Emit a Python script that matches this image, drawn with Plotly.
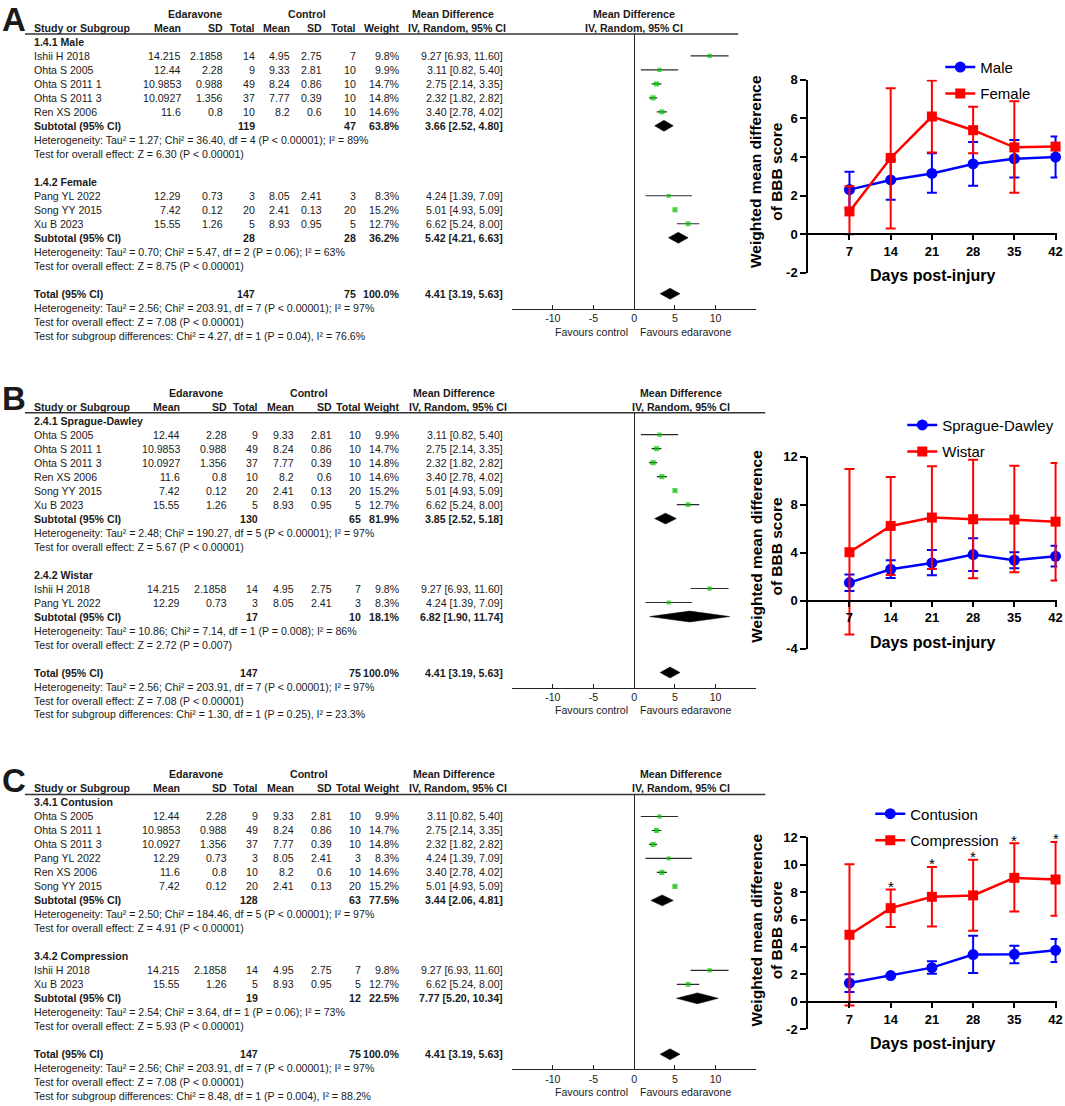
import plotly.graph_objects as go

W, H = 1065, 1106
# measured mapping between page pixels and the photographed picture
SX, SY, OY = 0.995, 0.987, 6.1

# ----------------------------- DATA -----------------------------
study_names = ["Ishii H 2018", "Ohta S 2005", "Ohta S 2011 1", "Ohta S 2011 3",
               "Ren XS 2006", "Pang YL 2022", "Song YY 2015", "Xu B 2023"]
e_mean = [14.215, 12.44, 10.9853, 10.0927, 11.6, 12.29, 7.42, 15.55]
e_sd = [2.1858, 2.28, 0.988, 1.356, 0.8, 0.73, 0.12, 1.26]
e_n = [14, 9, 49, 37, 10, 3, 20, 5]
c_mean = [4.95, 9.33, 8.24, 7.77, 8.2, 8.05, 2.41, 8.93]
c_sd = [2.75, 2.81, 0.86, 0.39, 0.6, 2.41, 0.13, 0.95]
c_n = [7, 10, 10, 10, 10, 3, 20, 5]
weight = [9.8, 9.9, 14.7, 14.8, 14.6, 8.3, 15.2, 12.7]
md = [9.27, 3.11, 2.75, 2.32, 3.40, 4.24, 5.01, 6.62]
ci_lo = [6.93, 0.82, 2.14, 1.82, 2.78, 1.39, 4.93, 5.24]
ci_hi = [11.60, 5.40, 3.35, 2.82, 4.02, 7.09, 5.09, 8.00]

total_row = [147, 75, 100.0, 4.41, 3.19, 5.63]
total_het = "Heterogeneity: Tau² = 2.56; Chi² = 203.91, df = 7 (P &lt; 0.00001); I² = 97%"
total_test = "Test for overall effect: Z = 7.08 (P &lt; 0.00001)"

A1_title = "1.4.1 Male"
A1_studies = ["Ishii H 2018", "Ohta S 2005", "Ohta S 2011 1", "Ohta S 2011 3", "Ren XS 2006"]
A1_sub = [119, 47, 63.8, 3.66, 2.52, 4.80]
A1_het = "Heterogeneity: Tau² = 1.27; Chi² = 36.40, df = 4 (P &lt; 0.00001); I² = 89%"
A1_test = "Test for overall effect: Z = 6.30 (P &lt; 0.00001)"
A2_title = "1.4.2 Female"
A2_studies = ["Pang YL 2022", "Song YY 2015", "Xu B 2023"]
A2_sub = [28, 28, 36.2, 5.42, 4.21, 6.63]
A2_het = "Heterogeneity: Tau² = 0.70; Chi² = 5.47, df = 2 (P = 0.06); I² = 63%"
A2_test = "Test for overall effect: Z = 8.75 (P &lt; 0.00001)"
A_subgroup = "Test for subgroup differences: Chi² = 4.27, df = 1 (P = 0.04), I² = 76.6%"

B1_title = "2.4.1 Sprague-Dawley"
B1_studies = ["Ohta S 2005", "Ohta S 2011 1", "Ohta S 2011 3", "Ren XS 2006", "Song YY 2015", "Xu B 2023"]
B1_sub = [130, 65, 81.9, 3.85, 2.52, 5.18]
B1_het = "Heterogeneity: Tau² = 2.48; Chi² = 190.27, df = 5 (P &lt; 0.00001); I² = 97%"
B1_test = "Test for overall effect: Z = 5.67 (P &lt; 0.00001)"
B2_title = "2.4.2 Wistar"
B2_studies = ["Ishii H 2018", "Pang YL 2022"]
B2_sub = [17, 10, 18.1, 6.82, 1.90, 11.74]
B2_het = "Heterogeneity: Tau² = 10.86; Chi² = 7.14, df = 1 (P = 0.008); I² = 86%"
B2_test = "Test for overall effect: Z = 2.72 (P = 0.007)"
B_subgroup = "Test for subgroup differences: Chi² = 1.30, df = 1 (P = 0.25), I² = 23.3%"

C1_title = "3.4.1 Contusion"
C1_studies = ["Ohta S 2005", "Ohta S 2011 1", "Ohta S 2011 3", "Pang YL 2022", "Ren XS 2006", "Song YY 2015"]
C1_sub = [128, 63, 77.5, 3.44, 2.06, 4.81]
C1_het = "Heterogeneity: Tau² = 2.50; Chi² = 184.46, df = 5 (P &lt; 0.00001); I² = 97%"
C1_test = "Test for overall effect: Z = 4.91 (P &lt; 0.00001)"
C2_title = "3.4.2 Compression"
C2_studies = ["Ishii H 2018", "Xu B 2023"]
C2_sub = [19, 12, 22.5, 7.77, 5.20, 10.34]
C2_het = "Heterogeneity: Tau² = 2.54; Chi² = 3.64, df = 1 (P = 0.06); I² = 73%"
C2_test = "Test for overall effect: Z = 5.93 (P &lt; 0.00001)"
C_subgroup = "Test for subgroup differences: Chi² = 8.48, df = 1 (P = 0.004), I² = 88.2%"

forest_ticks = [-10, -5, 0, 5, 10]

days = [7, 14, 21, 28, 35, 42]
male_mean = [2.31, 2.81, 3.15, 3.64, 3.91, 4.00]
male_lo = [1.35, 1.78, 2.15, 2.51, 2.94, 2.94]
male_hi = [3.24, 3.86, 4.19, 4.78, 4.88, 5.06]
female_mean = [1.18, 3.95, 6.10, 5.39, 4.50, 4.54]
female_lo = [0.0, 0.29, 4.24, 4.19, 2.15, 4.54]
female_hi = [2.49, 7.57, 7.97, 6.60, 6.89, 4.54]

sd_mean = [1.50, 2.61, 3.14, 3.83, 3.36, 3.69]
sd_lo = [0.80, 1.89, 2.11, 2.47, 2.69, 2.83]
sd_hi = [2.17, 3.36, 4.22, 5.19, 4.03, 4.58]
wi_mean = [4.03, 6.22, 6.92, 6.78, 6.75, 6.58]
wi_lo = [-2.83, 2.14, 2.64, 1.86, 2.36, 1.67]
wi_hi = [10.97, 10.30, 11.19, 11.75, 11.25, 11.47]

co_mean = [1.38, 1.92, 2.50, 3.45, 3.47, 3.76]
co_lo = [0.73, 1.92, 2.06, 2.11, 2.82, 2.91]
co_hi = [2.01, 1.92, 2.96, 4.83, 4.10, 4.59]
cp_mean = [4.90, 6.84, 7.67, 7.77, 9.05, 8.93]
cp_lo = [-0.27, 5.46, 5.51, 5.19, 6.60, 6.29]
cp_hi = [10.05, 8.20, 9.85, 10.37, 11.58, 11.67]
cp_sig = ["", "*", "*", "*", "*", "*"]

A_yticks = [-2, 0, 2, 4, 6, 8]
B_yticks = [-4, 0, 4, 8, 12]
C_yticks = [-2, 0, 2, 4, 6, 8, 10, 12]

# ----------------------------- STYLE -----------------------------
TFONT = "Arial, Liberation Sans, sans-serif"
TSIZE = 10.6
TCOL = "#1a1a1a"
GREEN = "#00c400"
BLUE = "#0000ff"
RED = "#ff0000"
ROW = 14.0

fig = go.Figure()
annotations = []
shapes = []


def fx(x):
    return (x / SX) / W


def fy(y):
    return 1 - ((y - OY) / SY) / H


def add_text(x, y, s, anchor="left", bold=False, size=TSIZE, family=TFONT, color=TCOL):
    if bold:
        s = "<b>" + s + "</b>"
    annotations.append(dict(xref="paper", yref="paper", x=fx(x), y=fy(y), text=s,
                            showarrow=False, xanchor=anchor, yanchor="middle",
                            borderpad=0, font=dict(family=family, size=size, color=color)))


def fmt_ci(m, lo, hi):
    return f"{m:.2f} [{lo:.2f}, {hi:.2f}]"


colsA = dict(name=33, em=182, esd=224, en=256, cm=291, csd=323, cn=357, w=401, ci=504,
             edar=195, ctrl=307, mdc=453, ivc=457, fc=634, line_end=738)
colsBC = dict(name=33, em=181, esd=228, en=259, cm=295, csd=333, cn=362, w=401, ci=504,
              edar=196, ctrl=309, mdc=454, ivc=458, fc=681, line_end=765)


def build_forest(idx, label, r0, cols, groups, subgroup_text):
    c = cols
    add_text(1, r0 - 22, label, bold=True, size=33)
    hy1, hy2 = r0 - 28, r0 - 14
    add_text(c["edar"], hy1, "Edaravone", "center", True)
    add_text(c["ctrl"], hy1, "Control", "center", True)
    add_text(c["mdc"], hy1, "Mean Difference", "center", True)
    add_text(c["fc"], hy1, "Mean Difference", "center", True)
    add_text(c["name"], hy2, "Study or Subgroup", "left", True)
    for key, s in [("em", "Mean"), ("esd", "SD"), ("en", "Total"), ("cm", "Mean"),
                   ("csd", "SD"), ("cn", "Total"), ("w", "Weight")]:
        add_text(c[key], hy2, s, "right", True)
    add_text(c["ivc"], hy2, "IV, Random, 95% CI", "center", True)
    add_text(c["fc"], hy2, "IV, Random, 95% CI", "center", True)
    shapes.append(dict(type="line", xref="paper", yref="paper", x0=fx(25), x1=fx(c["line_end"]),
                       y0=fy(r0 - 8), y1=fy(r0 - 8), line=dict(color="#333", width=1.5)))

    sq_x, sq_y, sq_size, e_plus, e_minus = [], [], [], [], []
    diamonds = []
    k = 0

    def ry(kk):
        return r0 + ROW * kk

    for (title, members, sub, het, test) in groups:
        add_text(c["name"], ry(k), title, "left", True)
        k += 1
        for nm in members:
            i = study_names.index(nm)
            y = ry(k)
            add_text(c["name"], y, nm)
            add_text(c["em"], y, str(e_mean[i]), "right")
            add_text(c["esd"], y, str(e_sd[i]), "right")
            add_text(c["en"], y, str(e_n[i]), "right")
            add_text(c["cm"], y, str(c_mean[i]), "right")
            add_text(c["csd"], y, str(c_sd[i]), "right")
            add_text(c["cn"], y, str(c_n[i]), "right")
            add_text(c["w"], y, f"{weight[i]:.1f}%", "right")
            add_text(c["ci"], y, fmt_ci(md[i], ci_lo[i], ci_hi[i]), "right")
            sq_x.append(md[i])
            sq_y.append(k)
            sq_size.append(2.6 + 0.17 * weight[i])
            e_plus.append(ci_hi[i] - md[i])
            e_minus.append(md[i] - ci_lo[i])
            k += 1
        y = ry(k)
        add_text(c["name"], y, "Subtotal (95% CI)", "left", True)
        add_text(c["en"], y, str(sub[0]), "right", True)
        add_text(c["cn"], y, str(sub[1]), "right", True)
        add_text(c["w"], y, f"{sub[2]:.1f}%", "right", True)
        add_text(c["ci"], y, fmt_ci(sub[3], sub[4], sub[5]), "right", True)
        diamonds.append((k, sub[3], sub[4], sub[5]))
        k += 1
        add_text(c["name"], ry(k), het)
        k += 1
        add_text(c["name"], ry(k), test)
        k += 2
    y = ry(k)
    add_text(c["name"], y, "Total (95% CI)", "left", True)
    add_text(c["en"], y, str(total_row[0]), "right", True)
    add_text(c["cn"], y, str(total_row[1]), "right", True)
    add_text(c["w"], y, f"{total_row[2]:.1f}%", "right", True)
    add_text(c["ci"], y, fmt_ci(total_row[3], total_row[4], total_row[5]), "right", True)
    diamonds.append((k, total_row[3], total_row[4], total_row[5]))
    k_total = k
    add_text(c["name"], ry(k + 1), total_het)
    add_text(c["name"], ry(k + 2), total_test)
    add_text(c["name"], ry(k + 3), subgroup_text)

    axis_px = ry(k_total) + 15
    top_px = r0 - 8
    xa, ya = f"x{idx}", f"y{idx}"
    fig.add_trace(go.Scatter(x=sq_x, y=sq_y, mode="markers", xaxis=xa, yaxis=ya, showlegend=False,
                             marker=dict(symbol="square", size=sq_size, color=GREEN, line=dict(width=0)),
                             error_x=dict(type="data", symmetric=False, array=e_plus, arrayminus=e_minus,
                                          color="#2a2a2a", thickness=1.1, width=0),
                             cliponaxis=False, hoverinfo="skip"))
    for (kk, m, lo, hi) in diamonds:
        h = 0.39
        fig.add_trace(go.Scatter(x=[lo, m, hi, m, lo], y=[kk, kk - h, kk, kk + h, kk], mode="lines",
                                 fill="toself", fillcolor="black", line=dict(color="black", width=0.5),
                                 xaxis=xa, yaxis=ya, showlegend=False, hoverinfo="skip"))
    fig.layout[f"xaxis{idx}"] = dict(domain=[fx(512), fx(756)], range=[-15, 15], anchor=ya,
                                     tickvals=forest_ticks, ticktext=[str(v) for v in forest_ticks],
                                     ticks="inside", ticklen=4, tickcolor="#222",
                                     showline=True, linecolor="#222", linewidth=1,
                                     zeroline=True, zerolinecolor="#222", zerolinewidth=1,
                                     showgrid=False, tickfont=dict(family=TFONT, size=TSIZE, color=TCOL))
    fig.layout[f"yaxis{idx}"] = dict(domain=[fy(axis_px), fy(top_px)], anchor=xa,
                                     range=[(axis_px - r0) / ROW, (top_px - r0) / ROW],
                                     visible=False, showgrid=False, zeroline=False)
    fav_y = ry(k_total) + 38
    add_text(629, fav_y, "Favours control", "right")
    add_text(639, fav_y, "Favours edaravone", "left")


build_forest(1, "A", 41, colsA,
             [(A1_title, A1_studies, A1_sub, A1_het, A1_test),
              (A2_title, A2_studies, A2_sub, A2_het, A2_test)], A_subgroup)
build_forest(2, "B", 420, colsBC,
             [(B1_title, B1_studies, B1_sub, B1_het, B1_test),
              (B2_title, B2_studies, B2_sub, B2_het, B2_test)], B_subgroup)
build_forest(3, "C", 802, colsBC,
             [(C1_title, C1_studies, C1_sub, C1_het, C1_test),
              (C2_title, C2_studies, C2_sub, C2_het, C2_test)], C_subgroup)

# ----------------------------- LINE CHARTS -----------------------------
LFONT = "Arial, Liberation Sans, sans-serif"


def line_chart(idx, top, bottom, yticks, series, legend_key, legend_xy, ytitle_y, xtitle_y, stars=None):
    xa, ya = f"x{idx}", f"y{idx}"
    ymin, ymax = yticks[0], yticks[-1]
    zero_px = top + (ymax - 0) / (ymax - ymin) * (bottom - top)
    for (name, mean, lo, hi, color, symbol, size) in series:
        fig.add_trace(go.Scatter(
            x=days, y=mean, name=name, mode="lines+markers", xaxis=xa, yaxis=ya,
            legend=legend_key, legendgroup=name,
            line=dict(color=color, width=2.5),
            marker=dict(symbol=symbol, size=size, color=color),
            error_y=dict(type="data", symmetric=False,
                         array=[h - m for h, m in zip(hi, mean)],
                         arrayminus=[m - l for m, l in zip(mean, lo)],
                         color=color, thickness=2, width=5),
            cliponaxis=False))
    if stars is not None:
        s_hi, s_txt = stars
        for d, v, t in zip(days, s_hi, s_txt):
            if t:
                annotations.append(dict(xref=xa, yref=ya, x=d, y=v, text=t, showarrow=False,
                                        xanchor="center", yanchor="middle", yshift=3,
                                        font=dict(family=LFONT, size=15, color="black")))
    fig.layout[f"xaxis{idx}"] = dict(domain=[fx(808), fx(1057)], range=[0, 42.3], anchor="free",
                                     position=fy(zero_px), tickvals=days, ticks="outside", ticklen=5,
                                     tickwidth=2, tickcolor="black", showline=True, linecolor="black",
                                     linewidth=2, showgrid=False, zeroline=False,
                                     ticklabeloverflow="allow",
                                     tickfont=dict(family=LFONT, size=13, color="black", weight="bold"))
    fig.layout[f"yaxis{idx}"] = dict(domain=[fy(bottom), fy(top)], range=[ymin, ymax], anchor=xa,
                                     tickvals=yticks, ticktext=[str(v) for v in yticks],
                                     ticks="outside", ticklen=6, tickwidth=2,
                                     tickcolor="black", showline=True, linecolor="black", linewidth=2,
                                     showgrid=False, zeroline=False,
                                     tickfont=dict(family=LFONT, size=13, color="black", weight="bold"))
    annotations.append(dict(xref="paper", yref="paper", x=fx(766), y=fy(ytitle_y),
                            text="<b>Weighted mean difference<br>of BBB score</b>", textangle=-90,
                            showarrow=False, xanchor="center", yanchor="middle",
                            font=dict(family=LFONT, size=15.5, color="black")))
    annotations.append(dict(xref="paper", yref="paper", x=fx(932), y=fy(xtitle_y),
                            text="<b>Days post-injury</b>", showarrow=False, xanchor="center",
                            yanchor="middle", font=dict(family=LFONT, size=16, color="black")))
    lx, ly = legend_xy
    fig.layout[legend_key] = dict(x=fx(lx - 37), y=fy(ly - 17), xanchor="left", yanchor="top",
                                  bgcolor="rgba(0,0,0,0)", itemwidth=30, tracegroupgap=4,
                                  traceorder="grouped",
                                  font=dict(family=LFONT, size=15, color="black"))


line_chart(4, 79, 272, A_yticks,
           [("Male", male_mean, male_lo, male_hi, BLUE, "circle", 11),
            ("Female", female_mean, female_lo, female_hi, RED, "square", 10)],
           "legend", (977, 67), 171, 275)
line_chart(5, 456, 648, B_yticks,
           [("Sprague-Dawley", sd_mean, sd_lo, sd_hi, BLUE, "circle", 11),
            ("Wistar", wi_mean, wi_lo, wi_hi, RED, "square", 10)],
           "legend2", (939, 425), 546, 642)
line_chart(6, 837, 1029, C_yticks,
           [("Contusion", co_mean, co_lo, co_hi, BLUE, "circle", 11),
            ("Compression", cp_mean, cp_lo, cp_hi, RED, "square", 10)],
           "legend3", (907, 814), 930, 1043, stars=(cp_hi, cp_sig))

fig.update_layout(width=W, height=H, autosize=False, margin=dict(l=0, r=0, t=0, b=0),
                  paper_bgcolor="white", plot_bgcolor="rgba(0,0,0,0)",
                  annotations=annotations, shapes=shapes, hovermode=False)

fig.write_html("out.html", config={"displayModeBar": False},
               post_script="document.documentElement.style.margin='0';"
                           "document.body.style.margin='0';"
                           "document.documentElement.style.overflow='hidden';"
                           "document.body.style.overflow='hidden';")
